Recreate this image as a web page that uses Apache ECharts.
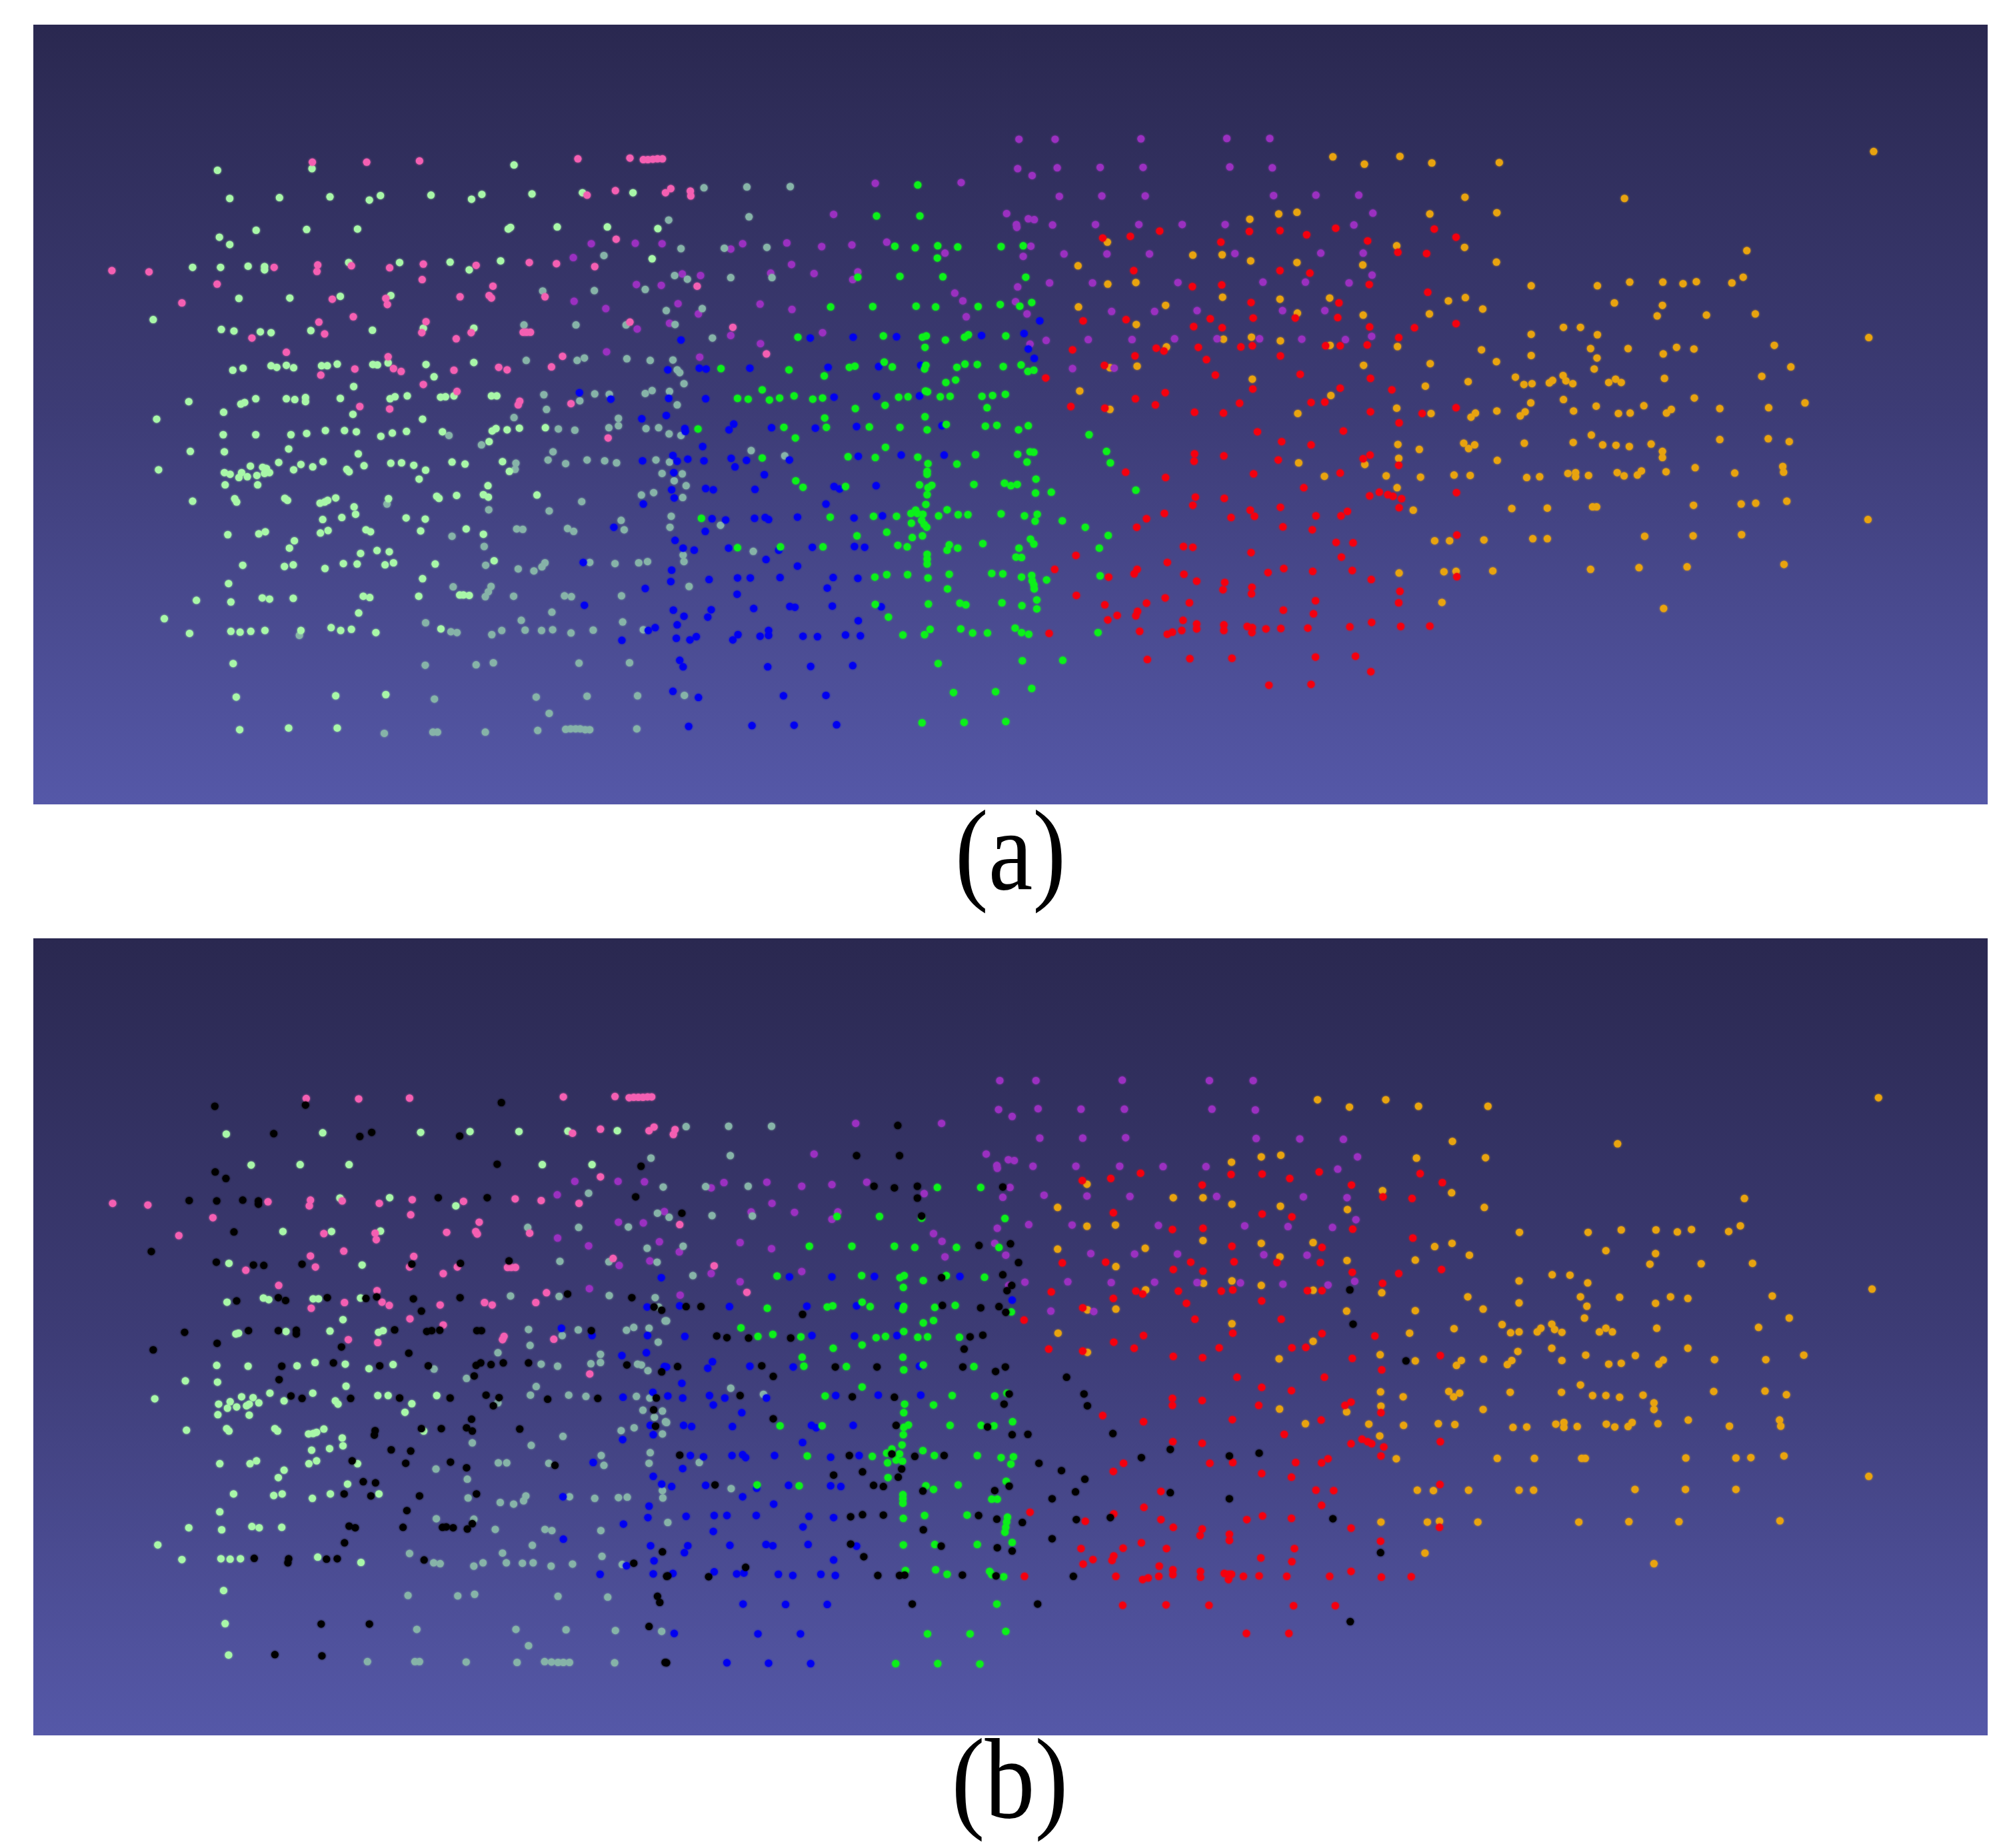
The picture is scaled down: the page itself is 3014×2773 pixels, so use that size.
<!DOCTYPE html>
<html><head><meta charset="utf-8">
<style>html,body{margin:0;padding:0;background:#fff}#c{width:3014px;height:2773px}</style>
<script src="https://cdn.jsdelivr.net/npm/echarts@6/dist/echarts.min.js"></script>
</head><body><div id="c"></div>
<script>
// Readings in each crop's own 0-1568 reading scale; panel a = a1,a2,a3 (left to right), panel b = b1,b2,b3
const a1Mint=[[342,107],[589,103],[1117,94],[374,176],[504,174],[636,172],[739,180],[768,169],[900,168],[1006,178],[1033,166],[1164,165],[1296,162],[1428,162],[347,271],[374,289],[443,254],[575,252],[708,251],[1108,247],[1102,251],[1230,246],[1361,246],[1493,250],[277,345],[350,345],[422,342],[465,343],[465,351],[685,333],[818,333],[950,332],[1000,351],[1082,329],[1478,324],[398,421],[531,420],[663,416],[795,414],[174,473],[352,497],[385,501],[454,503],[482,505],[586,500],[747,499],[880,494],[1012,494],[382,597],[409,592],[482,586],[497,590],[522,585],[541,591],[614,586],[629,586],[655,582],[748,583],[760,584],[788,579],[887,583],[1012,578],[908,613],[267,674],[358,700],[403,680],[413,676],[442,667],[522,667],[544,669],[572,664],[572,674],[663,666],[698,637],[793,667],[806,662],[838,660],[925,663],[938,662],[960,660],[1058,660],[1072,660],[696,705],[878,717],[183,717],[357,755],[442,755],[534,755],[575,752],[624,745],[674,745],[705,748],[769,759],[799,751],[836,747],[930,748],[1060,746],[1070,740],[1052,772],[1099,743],[1131,739],[1199,738],[271,796],[360,797],[528,790],[710,802],[188,841],[360,848],[375,852],[398,860],[405,848],[420,858],[428,832],[445,855],[460,835],[465,850],[478,848],[470,838],[362,878],[447,878],[502,823],[541,841],[560,828],[591,834],[618,821],[680,840],[686,846],[725,831],[795,825],[823,824],[855,830],[886,842],[869,864],[955,822],[989,827],[1087,821],[1105,845],[277,918],[387,912],[392,920],[518,911],[525,916],[610,923],[622,920],[630,916],[651,910],[789,912],[915,906],[921,911],[967,904],[1037,902],[1050,908],[1049,880],[1177,903],[699,932],[703,950],[617,963],[667,958],[835,959],[885,962],[369,1000],[450,998],[467,993],[611,996],[631,990],[730,988],[742,993],[873,991],[992,986],[1037,999],[543,1015],[530,1033],[716,1046],[759,1039],[791,1042],[408,1075],[517,1078],[540,1074],[623,1083],[671,1071],[707,1072],[780,1074],[802,1069],[911,1072],[1065,1064],[371,1120],[878,1108],[287,1161],[377,1165],[459,1155],[478,1158],[540,1156],[723,1151],[740,1154],[868,1151],[975,1148],[985,1148],[1000,1149],[711,1192],[203,1206],[269,1242],[377,1237],[401,1239],[429,1237],[466,1235],[560,1235],[639,1228],[664,1235],[692,1232],[756,1240],[926,1231],[383,1316],[391,1398],[651,1395],[782,1392],[400,1478],[528,1474],[655,1474]];
const a1Teal=[[1352,316],[1460,399],[1327,402],[1192,403],[1515,451],[1279,486],[1410,486],[1143,486],[1149,573],[1282,573],[1301,567],[1412,569],[1473,573],[1195,657],[1328,655],[1366,656],[1460,654],[1478,647],[1202,693],[1289,672],[1117,713],[1390,715],[1365,738],[1390,733],[1233,741],[1276,744],[1462,740],[1495,738],[947,757],[1032,780],[1219,797],[1206,817],[1252,826],[1308,817],[1354,819],[1385,824],[1488,817],[1122,825],[1120,840],[1504,850],[1450,903],[1482,897],[1294,919],[1209,942],[1051,939],[785,925],[1397,965],[1405,988],[1124,986],[1140,987],[1257,985],[1273,992],[955,1004],[1039,1029],[1315,1068],[1381,1071],[1443,1069],[1466,1066],[1198,1069],[1190,1079],[1169,1089],[1128,1084],[1043,1075],[1057,1127],[1050,1140],[1042,1152],[958,1128],[1116,1151],[1249,1150],[1267,1152],[1398,1150],[1216,1190],[886,1216],[1136,1210],[1401,1214],[952,1238],[968,1240],[1059,1245],[1085,1235],[1146,1234],[1189,1235],[1218,1233],[1266,1241],[1324,1234],[1455,1233],[556,1247],[885,1320],[1018,1319],[1063,1314],[1287,1315],[1419,1314],[909,1403],[1175,1398],[1308,1396],[1440,1395],[1209,1438],[778,1487],[905,1484],[917,1484],[1042,1484],[1179,1480],[1252,1477],[1265,1476],[1278,1476],[1290,1476],[1303,1478],[1315,1478],[1438,1476]];
const a1Pink=[[590,87],[732,87],[870,84],[1284,79],[1420,77],[1455,81],[1467,81],[1480,80],[1492,79],[1505,79],[1308,168],[1382,157],[1513,162],[1384,276],[66,353],[163,356],[490,345],[604,339],[602,355],[692,341],[792,346],[880,337],[1018,340],[1157,333],[1228,336],[1328,343],[341,386],[877,375],[1062,391],[249,432],[642,423],[782,421],[786,436],[976,417],[1052,414],[1058,420],[1198,417],[697,466],[607,479],[887,478],[1420,479],[622,508],[876,505],[1005,505],[432,518],[966,520],[1141,504],[1150,504],[1160,504],[522,553],[788,564],[1244,563],[701,594],[802,593],[822,600],[960,597],[1077,590],[1099,596],[1215,589],[612,609],[880,632],[968,649],[1132,673],[1128,682],[1266,679],[714,686],[792,692],[1363,763]];
const a1Purple=[[1319,287],[1434,286],[1504,287],[1272,321],[1437,387],[1502,389],[1274,428],[1357,446],[1439,496],[1359,552]];
const a1Blue=[[1288,652],[1370,668],[1451,716],[1515,708],[1453,819],[1455,925],[1378,982],[1298,1068],[1460,1132],[1301,1173],[1468,1235],[1486,1228],[1399,1259]];
const a2Teal=[[88,150],[189,148],[291,147],[5,229],[194,221],[34,299],[136,298],[236,296],[19,365],[49,374],[151,370],[248,370],[84,446],[20,485],[108,518],[15,572],[25,596],[31,603],[41,630],[7,649],[25,682],[6,753],[34,757],[199,794],[278,807],[7,822],[37,851],[18,868],[46,880],[38,909],[11,955],[8,982],[127,977],[204,1041],[39,1050],[41,1066],[53,1127],[42,1394]];
const a2Pink=[[10,152],[56,158],[57,170],[72,391],[156,492],[235,557]];
const a2Purple=[[491,139],[693,137],[829,31],[914,31],[1116,30],[1318,29],[1419,29],[826,103],[919,101],[1020,100],[1121,100],[1325,99],[1425,101],[860,120],[924,171],[1024,170],[1126,170],[1428,169],[393,215],[800,213],[823,240],[824,247],[851,226],[865,228],[908,241],[1009,240],[1111,240],[1213,240],[1314,240],[151,300],[179,287],[283,285],[365,294],[436,290],[518,283],[655,310],[857,293],[839,318],[935,312],[1036,312],[1136,312],[1337,311],[294,338],[37,361],[80,365],[245,359],[347,360],[450,356],[438,375],[826,393],[901,383],[1002,383],[1203,382],[1403,381],[678,408],[697,427],[821,429],[27,434],[220,435],[75,459],[295,448],[705,466],[848,459],[1047,453],[1148,453],[1248,451],[1449,451],[7,482],[151,512],[367,505],[221,532],[78,565],[855,533],[893,524],[992,522],[1095,522],[1195,520],[1295,520],[1395,520],[955,593],[1053,592]];
const a2Green=[[591,143],[494,219],[596,219],[537,293],[585,297],[638,292],[637,322],[685,295],[787,294],[839,292],[450,369],[549,367],[650,368],[845,369],[386,442],[485,441],[587,440],[633,442],[733,441],[785,436],[831,440],[859,431],[309,516],[510,513],[602,516],[611,513],[656,523],[701,516],[710,510],[798,513],[608,541],[128,593],[288,596],[430,590],[443,587],[512,577],[531,589],[610,585],[607,594],[683,590],[702,582],[731,583],[792,588],[834,584],[850,600],[864,597],[371,611],[657,627],[680,621],[225,645],[167,666],[192,668],[242,670],[266,665],[300,660],[344,668],[367,665],[444,691],[546,663],[568,662],[609,648],[614,650],[644,662],[667,661],[742,661],[767,659],[797,656],[514,683],[754,689],[372,714],[608,711],[74,741],[276,737],[376,737],[477,736],[549,737],[613,743],[658,730],[750,734],[777,732],[828,743],[851,733],[303,763],[994,755],[515,786],[225,812],[427,809],[491,811],[591,810],[727,804],[826,803],[855,797],[864,798],[1035,796],[615,826],[683,827],[848,822],[1044,824],[613,845],[613,852],[869,864],[304,868],[321,884],[421,882],[595,878],[615,885],[624,879],[723,877],[795,874],[810,880],[825,877],[868,898],[905,896],[1104,891],[613,902],[610,926],[82,960],[385,957],[487,955],[541,955],[575,948],[586,940],[590,948],[603,950],[640,954],[660,939],[686,951],[709,951],[787,949],[842,954],[872,950],[867,967],[931,966],[985,982],[576,972],[600,965],[612,982],[606,975],[518,994],[448,1003],[578,1007],[602,1003],[1039,1002],[167,1032],[268,1030],[368,1030],[544,1026],[566,1030],[660,1038],[665,1025],[685,1033],[744,1022],[829,1033],[856,1011],[864,1023],[1018,1033],[613,1048],[613,1060],[613,1072],[822,1055],[835,1056],[490,1104],[518,1098],[567,1098],[615,1106],[665,1097],[765,1095],[791,1096],[835,1104],[859,1100],[860,1113],[864,1123],[865,1133],[894,1111],[1020,1101],[661,1133],[491,1171],[616,1170],[690,1168],[704,1172],[789,1167],[836,1174],[871,1160],[871,1182],[522,1202],[556,1246],[607,1245],[620,1232],[692,1231],[720,1241],[755,1241],[820,1229],[835,1240],[852,1244],[1015,1240],[639,1316],[837,1309],[932,1308],[675,1387],[774,1385],[859,1377],[601,1461],[700,1460],[798,1458]];
const a2Blue=[[34,523],[338,518],[439,516],[541,515],[741,512],[841,507],[878,476],[851,545],[865,568],[3,596],[77,592],[93,594],[196,592],[380,590],[499,588],[598,585],[92,667],[394,663],[494,661],[595,660],[5,666],[43,740],[44,747],[147,743],[158,729],[247,738],[350,739],[447,735],[648,733],[85,784],[15,806],[25,820],[50,815],[88,819],[152,813],[188,818],[161,834],[289,817],[451,808],[552,805],[653,805],[230,853],[92,887],[110,890],[208,889],[394,882],[407,888],[493,880],[12,890],[18,910],[17,848],[375,925],[107,961],[139,964],[207,960],[232,958],[240,963],[308,957],[441,959],[508,954],[91,992],[20,1014],[39,1033],[65,1038],[146,1033],[264,1038],[343,1031],[442,1029],[466,1031],[234,1061],[308,1077],[12,1087],[10,1115],[100,1110],[167,1106],[197,1106],[267,1105],[392,1105],[450,1107],[378,1131],[166,1146],[16,1185],[41,1200],[105,1184],[97,1202],[205,1181],[290,1176],[302,1178],[390,1175],[505,1177],[25,1221],[451,1211],[23,1254],[55,1258],[70,1250],[156,1258],[168,1245],[220,1249],[240,1235],[240,1247],[321,1249],[355,1250],[421,1246],[456,1248],[31,1308],[39,1324],[238,1324],[339,1323],[438,1321],[15,1384],[75,1399],[275,1395],[375,1394],[52,1470],[201,1468],[300,1467],[400,1466]];
const a2Red=[[1026,273],[1091,269],[1160,256],[1304,283],[1371,257],[1443,255],[1099,353],[1237,392],[1306,388],[1443,353],[1375,431],[980,476],[1081,473],[1240,490],[1279,471],[1307,493],[1380,469],[1479,469],[955,547],[1152,543],[1170,550],[1251,541],[1351,540],[1378,537],[1102,562],[1270,571],[1444,562],[1030,585],[1291,609],[892,616],[1379,643],[1173,652],[1103,667],[951,686],[1031,690],[1150,682],[1242,700],[1310,702],[1348,678],[1390,748],[1447,772],[1242,802],[1241,820],[1311,807],[1439,817],[1080,847],[1174,860],[1381,851],[1244,908],[1238,928],[1312,911],[1171,948],[1129,961],[1106,982],[1373,940],[1383,955],[1328,958],[1444,933],[1450,981],[1216,1029],[1238,1031],[1375,1044],[963,1051],[913,1085],[1178,1068],[1107,1085],[1100,1096],[1217,1097],[1247,1114],[1040,1104],[1313,1117],[1309,1135],[1377,1129],[1376,1145],[1415,1093],[1452,1083],[964,1149],[1031,1172],[1129,1168],[1173,1155],[1230,1167],[1108,1188],[1104,1199],[1060,1198],[1038,1209],[1215,1210],[1451,1185],[1247,1219],[1247,1231],[1311,1221],[1311,1235],[1366,1225],[1378,1228],[1377,1240],[1410,1231],[1445,1230],[900,1242],[1113,1237],[1178,1244],[1190,1239],[1212,1235],[1131,1306],[1231,1304],[1330,1303],[1417,1369]];
const a2Orange=[[1372,227],[1440,214],[1483,210],[1037,283],[1238,315],[1307,314],[1374,329],[1483,333],[968,341],[1038,386],[1104,382],[1308,418],[1174,438],[969,442],[1443,423],[1484,457],[1105,485],[1376,516],[1310,521],[1444,525],[1176,540],[1043,591],[1107,587],[1378,619],[972,648],[1043,693],[1485,703],[1487,824]];
const a3Purple=[[40,168],[146,168],[181,212],[134,241],[52,310],[157,310],[179,364],[14,381],[122,383],[62,451],[178,514],[113,522],[5,521]];
const a3Red=[[17,265],[89,249],[168,280],[333,251],[387,271],[243,308],[314,311],[25,359],[172,387],[317,406],[97,432],[94,468],[173,491],[284,493],[387,483],[245,517],[64,537],[100,537],[167,535],[1,607],[175,617],[100,641],[228,645],[28,676],[62,675],[175,699],[303,703],[387,689],[246,726],[108,746],[28,780],[174,805],[157,814],[245,830],[100,849],[10,885],[173,905],[197,896],[218,902],[231,906],[252,912],[388,897],[246,934],[118,943],[102,954],[40,954],[31,988],[389,1001],[90,1019],[132,1020],[103,1055],[32,1090],[130,1088],[177,1110],[389,1103],[248,1139],[245,1167],[39,1162],[34,1194],[20,1229],[124,1226],[178,1215],[250,1225],[322,1224],[39,1300],[138,1298],[176,1336],[28,1367]];
const a3Orange=[[82,74],[160,92],[248,73],[327,89],[494,88],[1421,61],[409,173],[804,176],[322,214],[488,211],[240,292],[408,296],[1107,304],[156,339],[487,332],[573,390],[737,390],[817,381],[899,381],[949,385],[982,380],[1070,383],[1098,369],[74,420],[368,427],[410,419],[453,447],[779,432],[898,438],[157,462],[321,459],[885,464],[1007,462],[1128,459],[653,492],[695,492],[573,509],[737,510],[1409,517],[75,536],[242,539],[450,547],[720,544],[813,544],[933,541],[976,545],[900,557],[1175,536],[573,561],[736,567],[158,585],[323,581],[487,576],[729,594],[1216,589],[534,614],[652,610],[1144,612],[417,625],[555,632],[575,630],[618,628],[626,622],[659,623],[676,630],[765,627],[782,619],[796,627],[903,617],[311,636],[77,659],[572,677],[653,669],[977,665],[1251,677],[240,690],[325,703],[435,702],[424,712],[488,697],[558,699],[546,709],[678,697],[734,685],[789,703],[818,702],[852,684],[920,693],[908,702],[1040,691],[1161,689],[243,779],[296,791],[406,776],[418,789],[433,780],[556,776],[677,774],[722,756],[750,780],[783,781],[816,784],[870,778],[898,796],[898,811],[1040,767],[1160,765],[1212,772],[245,813],[161,828],[489,818],[979,836],[1196,833],[1198,847],[61,857],[214,856],[299,859],[382,854],[422,855],[562,860],[594,858],[664,850],[683,848],[683,858],[715,855],[786,848],[803,856],[836,854],[846,844],[907,846],[1077,849],[241,885],[281,940],[525,936],[613,935],[725,932],[735,932],[975,928],[1093,925],[1129,923],[1206,918],[1407,963],[334,1015],[371,1015],[456,1013],[577,1010],[613,1010],[854,1004],[974,1003],[1094,1000],[246,1094],[357,1091],[387,1090],[478,1089],[720,1085],[840,1081],[959,1079],[1199,1073],[352,1166],[901,1181]];
const b1Black=[[335,98],[572,95],[1084,89],[489,165],[714,172],[745,162],[975,171],[1073,240],[1449,245],[336,259],[364,275],[268,329],[340,330],[408,328],[449,330],[449,338],[919,322],[1047,322],[1435,320],[385,406],[169,454],[339,480],[436,487],[463,488],[563,485],[850,485],[977,483],[1104,477],[392,575],[501,567],[520,574],[629,567],[730,569],[758,565],[854,570],[976,567],[1257,558],[1425,567],[1483,590],[1503,598],[875,600],[256,652],[341,679],[423,648],[501,648],[548,647],[548,656],[805,646],[889,650],[902,648],[923,647],[1020,648],[1032,648],[1319,648],[174,695],[666,688],[842,703],[510,735],[645,727],[766,734],[893,734],[1018,733],[1030,727],[1057,731],[1089,727],[1155,727],[1412,732],[1503,749],[503,768],[1013,759],[534,808],[563,814],[690,814],[818,813],[950,813],[1044,806],[1078,812],[1063,832],[1205,816],[1336,814],[1489,813],[1482,842],[1006,865],[754,893],[752,904],[927,888],[993,886],[1008,894],[1132,889],[875,888],[1487,882],[796,940],[847,943],[694,967],[834,973],[951,970],[993,984],[1224,978],[723,1018],[755,1021],[673,1048],[743,1053],[870,1053],[1019,1048],[837,1089],[1008,1121],[995,1134],[686,1127],[702,1131],[827,1130],[930,1130],[940,1129],[958,1131],[674,1168],[1505,1190],[438,1206],[528,1207],[526,1217],[627,1208],[655,1207],[882,1210],[1430,1218],[1516,1250],[1492,1299],[1498,1314],[613,1367],[739,1367],[1470,1373],[492,1442],[615,1445],[1512,1461]];
const b1Mint=[[365,166],[617,163],[873,162],[1002,160],[1130,160],[1258,159],[1387,158],[430,242],[558,241],[686,241],[1191,241],[1321,241],[662,323],[792,322],[965,342],[513,405],[640,405],[768,404],[372,483],[720,487],[367,578],[462,568],[476,572],[592,570],[606,570],[716,568],[670,621],[390,656],[397,654],[521,650],[636,649],[763,652],[775,648],[340,733],[422,735],[550,734],[597,726],[676,730],[738,741],[801,731],[258,771],[342,774],[678,784],[178,815],[345,828],[368,838],[375,822],[392,835],[405,810],[418,832],[435,812],[450,825],[425,828],[343,854],[425,855],[479,801],[516,820],[591,801],[650,820],[657,828],[761,807],[788,807],[850,827],[832,848],[915,807],[261,892],[366,888],[372,894],[492,888],[499,894],[580,901],[592,900],[601,897],[620,889],[668,911],[670,930],[588,941],[635,937],[881,894],[348,974],[427,974],[444,967],[581,974],[601,967],[708,974],[516,990],[501,1008],[682,1024],[384,1048],[489,1052],[511,1048],[590,1059],[637,1048],[764,1048],[348,1092],[267,1131],[353,1136],[432,1128],[451,1131],[510,1130],[186,1173],[249,1209],[351,1207],[375,1208],[402,1207],[604,1203],[717,1216],[358,1285],[362,1366],[371,1443]];
const b1Teal=[[1475,225],[1507,296],[1312,311],[1492,360],[1416,394],[1286,395],[1153,395],[1465,446],[1237,478],[1365,479],[1491,480],[1108,563],[1235,564],[1366,562],[1486,567],[1495,590],[1512,624],[1155,645],[1285,646],[1411,647],[1430,640],[1470,642],[1159,684],[1243,660],[1494,676],[1075,702],[1343,706],[1318,729],[1343,726],[1188,730],[1231,735],[1440,730],[1450,732],[1467,746],[908,742],[993,765],[1175,785],[1160,806],[1260,806],[1305,809],[1437,809],[1472,813],[1075,825],[1454,843],[1505,845],[1484,860],[1513,871],[1397,893],[1431,886],[1505,901],[1245,907],[1162,929],[1008,923],[1473,947],[1345,954],[1470,973],[1352,978],[1076,972],[1098,972],[1208,973],[913,987],[995,1012],[1505,1040],[1506,1058],[1262,1055],[1328,1059],[1390,1057],[1413,1056],[1148,1053],[1142,1065],[1116,1073],[1081,1069],[997,1058],[1012,1110],[914,1109],[1068,1135],[1198,1135],[1216,1138],[1344,1138],[1165,1174],[844,1194],[1087,1193],[1347,1201],[907,1217],[924,1219],[1012,1225],[1036,1217],[1097,1217],[1139,1218],[1167,1217],[1214,1225],[1270,1220],[1400,1221],[840,1297],[970,1298],[1014,1294],[1232,1299],[1362,1301],[863,1380],[1122,1380],[1253,1381],[1382,1383],[1503,1385],[1155,1420],[734,1459],[858,1459],[870,1459],[992,1460],[1125,1461],[1197,1459],[1215,1460],[1232,1461],[1246,1461],[1262,1461],[1380,1462]];
const b1Pink=[[574,79],[711,80],[844,78],[1246,75],[1381,74],[1418,77],[1430,76],[1442,76],[1454,76],[1466,75],[1477,75],[1270,164],[1343,154],[1470,158],[1483,149],[1343,271],[68,336],[160,340],[474,332],[585,328],[582,342],[668,330],[765,336],[851,327],[985,331],[1120,325],[1188,329],[1287,336],[330,371],[847,364],[1026,382],[241,415],[620,410],[754,409],[757,425],[941,407],[1017,405],[1021,411],[1158,409],[672,453],[585,465],[855,466],[1376,471],[598,492],[844,492],[969,492],[416,500],[932,508],[1100,493],[1110,493],[1121,493],[502,537],[759,550],[1202,555],[674,579],[772,578],[791,586],[924,585],[1040,579],[1060,585],[1174,579],[587,593],[845,619],[932,634],[1091,662],[1087,670],[1221,669],[684,670],[761,677],[1315,754]];
const b1Purple=[[1276,282],[1389,282],[1458,283],[1230,315],[1510,356],[1390,382],[1455,384],[1231,421],[1497,430],[1312,440],[1392,488],[1472,477],[1314,545]];
const b1Blue=[[1502,518],[1465,590],[1241,642],[1321,660],[1466,660],[1399,709],[1463,702],[1510,736],[1480,799],[1402,811],[1473,880],[1481,903],[1401,915],[1324,971],[1481,1005],[1503,1024],[1245,1055],[1470,1078],[1467,1106],[1403,1122],[1246,1159],[1474,1175],[1483,1212],[1411,1224],[1342,1245],[1481,1244]];
const b2Teal=[[46,148],[146,147],[247,147],[150,219],[92,295],[192,294],[6,370],[107,366],[202,367],[39,441],[62,513],[0,624],[151,789],[228,804],[0,873],[77,971],[152,1035],[3,1118]];
const b2Pink=[[20,155],[16,167],[31,388],[112,489],[189,554]];
const b2Purple=[[445,140],[647,140],[784,35],[869,35],[1072,34],[1277,35],[1380,35],[781,106],[874,104],[975,105],[1077,105],[1283,105],[1385,107],[813,123],[878,176],[979,176],[1080,175],[1387,177],[347,215],[752,215],[777,243],[778,250],[804,229],[818,231],[862,245],[963,245],[1066,245],[1168,246],[1269,246],[105,298],[135,285],[236,284],[318,294],[389,290],[471,284],[606,312],[808,297],[791,321],[888,316],[989,318],[1090,319],[1294,319],[248,336],[199,357],[301,358],[403,357],[389,375],[778,397],[852,388],[954,389],[1157,390],[1360,391],[1462,393],[628,410],[648,429],[772,434],[173,432],[30,455],[247,447],[655,467],[798,463],[998,459],[1101,460],[1202,460],[1405,462],[105,508],[318,503],[173,528],[32,561],[805,537],[843,529],[944,528],[1046,530],[1148,529],[1248,530],[1350,531],[1450,534],[904,600],[1005,601]];
const b2Green=[[637,297],[739,297],[401,368],[501,368],[600,372],[796,373],[336,441],[436,441],[536,441],[584,444],[682,444],[782,444],[260,514],[459,513],[549,518],[559,513],[604,525],[658,513],[748,517],[557,542],[237,593],[378,590],[391,587],[460,578],[479,589],[558,589],[556,596],[631,591],[679,586],[811,602],[604,629],[628,623],[175,641],[215,662],[250,657],[316,663],[392,691],[460,683],[493,665],[515,662],[558,650],[591,664],[614,663],[689,664],[319,713],[323,735],[423,736],[556,713],[558,744],[604,732],[723,736],[460,786],[373,808],[672,807],[772,808],[801,801],[560,828],[628,830],[558,849],[267,881],[366,881],[569,879],[558,885],[667,880],[740,880],[770,881],[814,871],[557,903],[554,928],[331,955],[484,956],[518,948],[530,938],[548,950],[603,942],[630,954],[731,954],[787,959],[816,957],[810,975],[520,972],[540,965],[555,968],[521,1008],[213,1026],[312,1028],[610,1028],[628,1037],[686,1026],[799,1017],[556,1050],[556,1060],[556,1071],[765,1061],[778,1061],[557,1108],[607,1101],[707,1100],[802,1105],[800,1117],[798,1130],[796,1142],[557,1173],[631,1172],[731,1172],[813,1167],[562,1236],[633,1234],[660,1245],[760,1238],[765,1246],[793,1251],[777,1318],[614,1391],[714,1391],[798,1385],[539,1464],[638,1464],[737,1465]];
const b2Black=[[544,145],[447,219],[548,219],[488,294],[536,298],[590,294],[590,323],[791,296],[36,360],[600,367],[735,439],[809,435],[828,481],[647,518],[791,511],[801,550],[812,537],[46,589],[81,589],[320,608],[649,586],[739,592],[782,589],[798,603],[118,661],[142,665],[193,666],[292,666],[714,663],[744,659],[700,693],[26,736],[224,734],[251,760],[397,737],[495,737],[697,737],[797,737],[774,748],[941,762],[173,807],[437,810],[536,811],[982,803],[806,803],[794,828],[990,832],[251,864],[540,880],[755,884],[813,903],[850,902],[1050,900],[31,953],[430,954],[584,956],[653,954],[530,950],[1185,939],[1117,959],[1324,955],[1394,948],[876,973],[461,994],[929,991],[393,1002],[553,987],[984,1012],[114,1026],[487,1027],[510,1030],[603,1041],[545,1007],[806,1029],[772,1040],[962,1043],[1185,1045],[907,1060],[1324,1060],[433,1104],[461,1099],[510,1100],[734,1101],[777,1110],[837,1118],[964,1111],[1044,1106],[604,1136],[907,1158],[433,1171],[646,1176],[778,1180],[813,1188],[464,1202],[186,1228],[99,1251],[3,1249],[497,1248],[548,1248],[560,1247],[696,1247],[775,1249],[957,1250],[578,1318],[873,1318],[0,1462]];
const b2Blue=[[31,587],[148,589],[330,588],[447,587],[545,587],[813,573],[289,516],[389,516],[489,515],[690,515],[43,662],[342,660],[442,661],[542,660],[0,737],[97,740],[108,724],[196,735],[298,737],[595,735],[36,777],[3,808],[38,813],[101,807],[137,813],[110,830],[235,813],[398,807],[498,806],[598,806],[177,849],[40,880],[59,883],[155,883],[341,880],[352,886],[439,880],[320,922],[56,954],[87,957],[154,954],[179,952],[186,959],[254,954],[386,958],[453,954],[38,986],[12,1030],[92,1027],[212,1034],[287,1027],[386,1028],[410,1030],[179,1055],[252,1073],[46,1103],[112,1101],[142,1101],[211,1101],[335,1103],[393,1106],[321,1129],[110,1140],[50,1175],[149,1174],[42,1192],[234,1172],[250,1175],[333,1172],[447,1176],[393,1210],[15,1243],[112,1239],[165,1244],[182,1242],[263,1245],[297,1248],[363,1245],[397,1248],[180,1318],[280,1319],[378,1319],[18,1390],[215,1391],[315,1391],[142,1462],[240,1463],[339,1464]];
const b2Red=[[978,280],[1045,275],[1115,262],[1260,291],[1328,265],[1401,264],[1466,275],[1051,359],[1190,400],[1262,397],[1401,362],[1471,369],[1330,441],[931,482],[1033,480],[1192,498],[1233,480],[1262,502],[1335,479],[1436,481],[905,553],[1104,551],[1120,558],[1204,551],[1305,551],[1332,548],[1051,569],[1223,581],[1400,575],[979,592],[1243,620],[1446,620],[841,622],[1332,654],[1122,660],[1052,676],[899,693],[979,698],[1100,691],[1192,711],[1261,714],[1300,690],[1471,690],[1342,762],[1400,787],[1470,795],[1190,814],[1190,831],[1260,819],[1393,831],[1026,856],[1122,871],[1331,866],[1453,902],[1191,920],[1260,924],[1075,973],[1051,993],[1278,973],[1332,971],[1400,998],[1480,971],[1470,1007],[1163,1042],[1123,1081],[855,1093],[1052,1097],[1163,1111],[985,1115],[1192,1130],[1260,1134],[1255,1150],[1324,1147],[1324,1162],[1365,1111],[1402,1102],[1470,1108],[975,1182],[1074,1181],[1117,1168],[1176,1182],[1477,1182],[1052,1200],[1048,1211],[1003,1209],[980,1220],[1159,1225],[1398,1205],[1471,1214],[1191,1234],[1191,1246],[1256,1238],[1256,1252],[1312,1243],[1323,1245],[1329,1245],[1322,1258],[1357,1250],[1394,1249],[1459,1250],[842,1250],[1057,1250],[1120,1258],[1133,1254],[1158,1250],[1073,1321],[1175,1320],[1276,1321],[1475,1322],[1364,1390],[1464,1390]];
const b2Orange=[[1329,235],[1399,222],[1445,218],[989,289],[1192,322],[1262,322],[1330,338],[1444,343],[920,346],[989,392],[1056,389],[1262,427],[1126,446],[920,448],[1399,434],[1443,467],[1057,491],[1330,526],[1263,532],[1399,537],[1127,548],[990,597],[1057,595],[1330,631],[921,654],[990,701],[1441,717],[1442,840]];
const b3Purple=[[0,178],[108,179],[143,222],[94,252],[9,320],[117,322],[139,376],[81,395],[18,463],[136,527],[70,536]];
const b3Red=[[48,259],[128,291],[298,263],[353,285],[206,320],[278,324],[131,399],[280,421],[55,444],[51,481],[130,505],[245,508],[351,498],[205,532],[19,550],[55,550],[55,655],[186,661],[15,689],[130,716],[348,709],[203,744],[61,762],[127,823],[112,831],[201,849],[53,867],[127,925],[154,914],[168,920],[178,925],[208,933],[348,920],[201,955],[70,962],[54,972],[347,1025],[40,1039],[84,1040],[54,1076],[127,1132],[346,1130],[200,1164],[127,1238],[74,1250],[202,1252],[276,1251],[88,1322]];
const b3Black=[[124,548],[132,632],[263,722],[82,1109],[200,1192],[125,1361]];
const b3Orange=[[44,82],[123,100],[213,82],[294,98],[466,98],[1433,77],[378,184],[787,190],[289,225],[460,224],[205,305],[376,310],[1101,324],[118,351],[457,346],[544,407],[714,407],[796,401],[882,401],[935,406],[970,400],[1062,405],[1091,391],[33,432],[334,442],[377,434],[420,463],[758,452],[881,459],[117,476],[286,475],[867,485],[994,484],[1121,483],[625,511],[669,512],[543,526],[713,531],[1417,546],[33,549],[203,555],[416,565],[695,565],[792,566],[918,565],[961,569],[881,581],[1170,563],[543,580],[711,588],[116,600],[286,599],[454,595],[705,617],[1212,617],[501,633],[624,632],[1136,640],[382,643],[522,653],[543,651],[588,651],[597,642],[631,645],[649,652],[742,651],[758,642],[774,651],[884,642],[272,654],[33,674],[540,699],[624,691],[961,691],[1248,708],[199,707],[286,722],[400,721],[388,733],[455,718],[525,721],[514,731],[649,721],[708,708],[765,730],[796,728],[831,709],[900,720],[889,730],[1027,719],[1154,719],[200,798],[256,810],[369,797],[381,810],[396,801],[521,799],[648,799],[695,781],[725,807],[758,807],[792,811],[850,806],[877,825],[877,841],[1025,797],[1152,796],[1205,805],[201,833],[116,847],[454,841],[962,867],[1188,867],[1191,882],[14,876],[171,877],[257,880],[343,876],[384,878],[528,885],[562,884],[634,877],[654,873],[654,885],[687,883],[759,877],[780,884],[813,883],[823,873],[887,876],[1064,882],[198,906],[239,962],[489,961],[581,961],[698,961],[707,961],[956,960],[1080,960],[1117,959],[1199,955],[1409,1005],[291,1039],[331,1040],[418,1039],[543,1039],[579,1039],[830,1037],[955,1037],[1080,1037],[201,1117],[316,1117],[346,1115],[441,1117],[691,1117],[815,1116],[939,1116],[1189,1114],[310,1193],[877,1219]];
const panelLabels=['(a)','(b)'];

const colors={orange:'#E8A30F',purple:'#9A30C0',teal:'#86B3A8',mint:'#A8F7A8',pink:'#F45FB2',blue:'#0000F0',green:'#0CF01A',red:'#F4000E',black:'#000000'};
const crops=[
 {left:130,top:190,width:900,height:960,sets:{teal:a1Teal,mint:a1Mint,pink:a1Pink,purple:a1Purple,blue:a1Blue}},
 {left:1000,top:190,width:1000,height:960,sets:{orange:a2Orange,purple:a2Purple,teal:a2Teal,pink:a2Pink,blue:a2Blue,green:a2Green,red:a2Red}},
 {left:1950,top:190,width:950,height:960,sets:{orange:a3Orange,purple:a3Purple,red:a3Red}},
 {left:130,top:1600,width:900,height:960,sets:{teal:b1Teal,mint:b1Mint,pink:b1Pink,purple:b1Purple,blue:b1Blue,black:b1Black}},
 {left:1000,top:1600,width:1000,height:960,sets:{orange:b2Orange,purple:b2Purple,teal:b2Teal,pink:b2Pink,blue:b2Blue,green:b2Green,red:b2Red,black:b2Black}},
 {left:1950,top:1600,width:950,height:960,sets:{orange:b3Orange,purple:b3Purple,red:b3Red,black:b3Black}}
];
const order=['orange','purple','teal','mint','pink','blue','green','red','black'];
const bg=()=>({type:'linear',x:0,y:0,x2:0,y2:1,colorStops:[{offset:0,color:'#2A2850'},{offset:0.5,color:'#3D3C76'},{offset:1,color:'#5558A8'}]});
const grids=[
 {left:50,top:37,width:2932,height:1170,show:true,backgroundColor:bg(),borderWidth:0},
 {left:50,top:1408,width:2932,height:1196,show:true,backgroundColor:bg(),borderWidth:0}
];
const xAxes=[],yAxes=[],series=[];
[0,1].forEach(i=>{
 xAxes.push({gridIndex:i,show:false,min:0,max:1});
 yAxes.push({gridIndex:i,show:false,min:0,max:1});
});
crops.forEach((c,i)=>{
 const g=i+2;
 grids.push({left:c.left,top:c.top,width:c.width,height:c.height,show:false});
 xAxes.push({gridIndex:g,show:false,type:'value',min:0,max:1568});
 yAxes.push({gridIndex:g,show:false,type:'value',min:0,max:1568,inverse:true});
 order.forEach((k,zi)=>{
  if(!c.sets[k])return;
  series.push({type:'scatter',xAxisIndex:g,yAxisIndex:g,data:c.sets[k],symbol:'circle',symbolSize:11,silent:true,z:2+zi,clip:false,
   itemStyle:{color:colors[k],opacity:1,shadowBlur:3,shadowColor:colors[k]}});
 });
});
const chart=echarts.init(document.getElementById('c'),null,{renderer:'canvas'});
const labelStyle=t=>({text:t,fill:'#000',fontFamily:'Liberation Serif',fontSize:150,align:'center',verticalAlign:'middle'});
chart.setOption({
 animation:false,backgroundColor:'#ffffff',
 grid:grids,xAxis:xAxes,yAxis:yAxes,series:series,
 graphic:[
  {type:'text',x:1516,y:1289,scaleY:1.14,style:labelStyle(panelLabels[0])},
  {type:'text',x:1515,y:2682,scaleY:1.14,style:labelStyle(panelLabels[1])}
 ]
});
</script></body></html>
